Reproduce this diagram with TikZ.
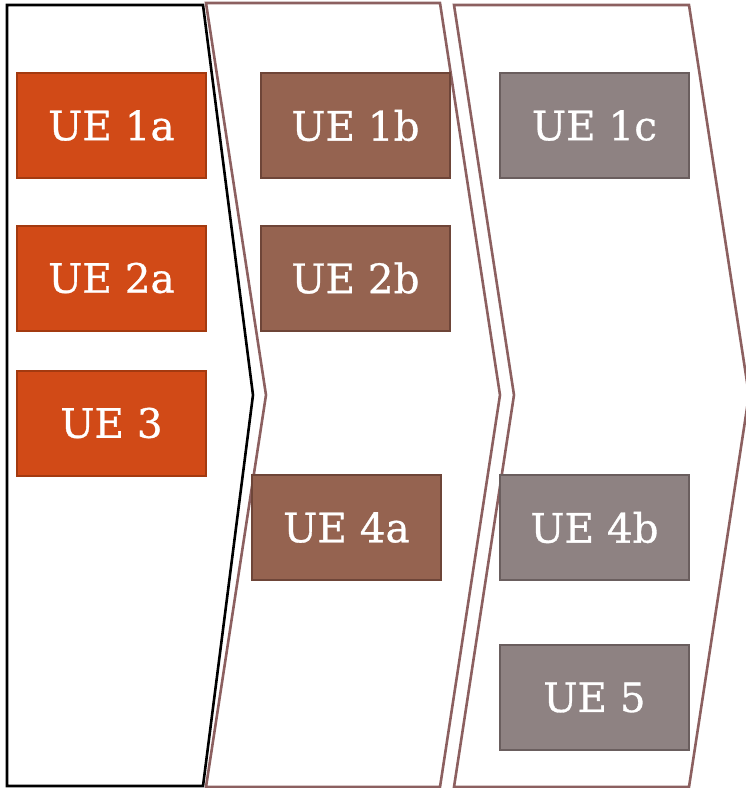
\documentclass[tikz,border=0pt]{standalone}
\usepackage{fontspec}
\setmainfont{DejaVu Serif}
\newfontfamily\uefont[FakeBold=0.8]{DejaVu Serif}
\definecolor{chevbrown}{RGB}{140,96,96}
\definecolor{orfill}{RGB}{209,74,23}
\definecolor{ordraw}{RGB}{163,58,16}
\definecolor{brfill}{RGB}{149,99,80}
\definecolor{brdraw}{RGB}{110,69,56}
\definecolor{grfill}{RGB}{142,130,130}
\definecolor{grdraw}{RGB}{106,94,94}
\tikzset{
  uebox/.style={rectangle, minimum width=189pt, minimum height=105pt, inner sep=0pt,
    line width=2pt, text=white, font=\uefont\fontsize{40.5}{48}\selectfont},
  uea/.style={uebox, fill=orfill, draw=ordraw},
  ueb/.style={uebox, fill=brfill, draw=brdraw},
  uec/.style={uebox, fill=grfill, draw=grdraw},
  chev/.style={line width=2.6pt, line join=miter, fill=white}
}
\begin{document}
\begin{tikzpicture}[x=1pt,y=-1pt]
\useasboundingbox (0,0) rectangle (746,788);
\clip (0,0) rectangle (746,788);
% chevrons
\draw[chev, draw=black] (7,5) -- (203,5) -- (253,395) -- (203,786) -- (7,786) -- cycle;
\draw[chev, draw=chevbrown] (206,3) -- (440,3) -- (500,395) -- (440,787) -- (206,787) -- (266,395) -- cycle;
\draw[chev, draw=chevbrown] (454,5) -- (689,5) -- (749,395) -- (689,787) -- (454,787) -- (514,395) -- cycle;
% boxes
\node[uea] (u1a) at (111.5,125.5) {UE 1a};
\node[uea] (u2a) at (111.5,278) {UE 2a};
\node[uea] (u3) at (111.5,423) {UE 3};
\node[ueb] (u1b) at (355.5,125.5) {UE 1b};
\node[ueb] (u2b) at (355.5,278) {UE 2b};
\node[ueb] (u4a) at (346.5,527.5) {UE 4a};
\node[uec] (u1c) at (594.5,125.5) {UE 1c};
\node[uec] (u4b) at (594.5,527.5) {UE 4b};
\node[uec] (u5) at (594.5,697.5) {UE 5};
\end{tikzpicture}
\end{document}
